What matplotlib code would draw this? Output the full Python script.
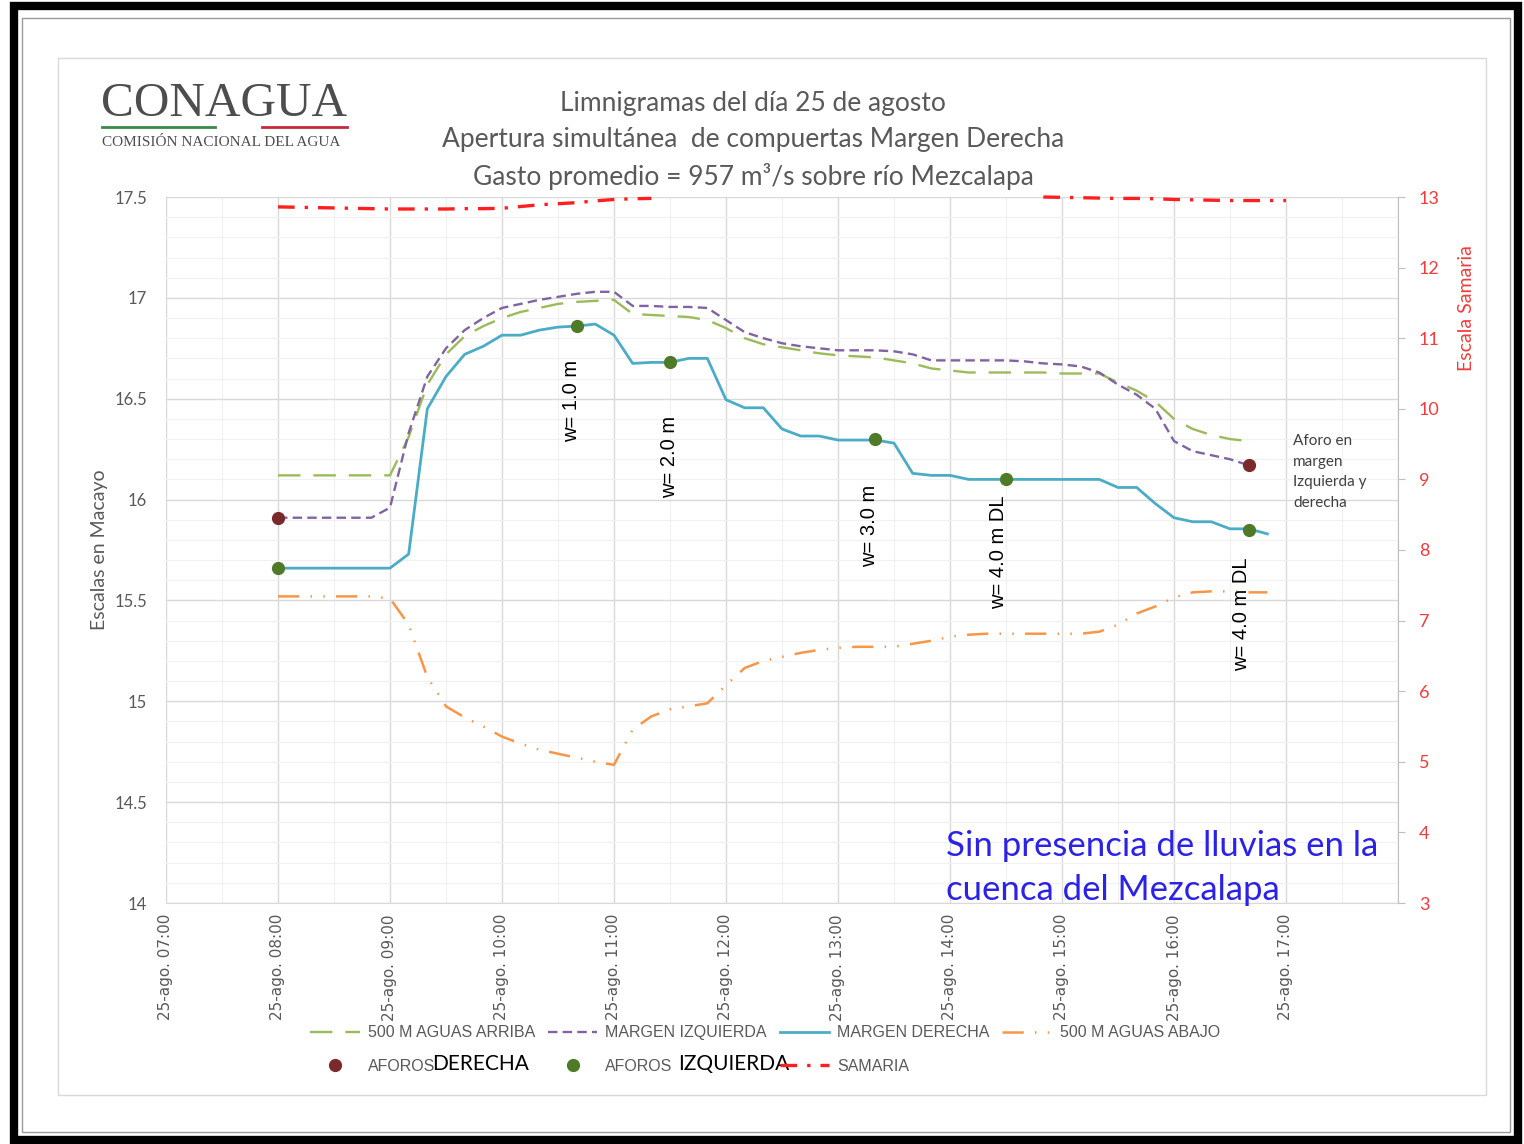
import matplotlib
matplotlib.use("Agg")
import matplotlib.pyplot as plt
from matplotlib.patches import Rectangle
from matplotlib.lines import Line2D
import numpy as np
import pandas as pd

nan = np.nan

# 10-minute readings, 25 Aug, 08:00 .. 17:00
times = pd.date_range("2019-08-25 08:00", "2019-08-25 17:00", freq="10min")

aguas_arriba = [16.12, 16.12, 16.12, 16.12, 16.12, 16.12, 16.12, 16.31, 16.57, 16.72,
                16.81, 16.86, 16.90, 16.93, 16.95, 16.97, 16.98, 16.985, 16.99, 16.92,
                16.915, 16.91, 16.905, 16.89, 16.85, 16.80, 16.77, 16.755, 16.74, 16.725,
                16.715, 16.71, 16.705, 16.69, 16.675, 16.65, 16.64, 16.63, 16.63, 16.63,
                16.63, 16.63, 16.625, 16.625, 16.625, 16.58, 16.54, 16.485, 16.40, 16.35,
                16.32, 16.30, 16.29, nan, nan]

margen_izquierda = [15.91, 15.91, 15.91, 15.91, 15.91, 15.91, 15.96, 16.33, 16.61, 16.75,
                    16.84, 16.90, 16.95, 16.97, 16.99, 17.005, 17.02, 17.03, 17.03, 16.96,
                    16.96, 16.955, 16.955, 16.95, 16.89, 16.83, 16.80, 16.775, 16.76, 16.75,
                    16.74, 16.74, 16.74, 16.735, 16.72, 16.69, 16.69, 16.69, 16.69, 16.69,
                    16.685, 16.675, 16.67, 16.66, 16.63, 16.57, 16.52, 16.45, 16.29, 16.24,
                    16.22, 16.20, 16.17, nan, nan]

margen_derecha = [15.66, 15.66, 15.66, 15.66, 15.66, 15.66, 15.66, 15.73, 16.45, 16.61,
                  16.72, 16.76, 16.815, 16.815, 16.84, 16.855, 16.86, 16.87, 16.815, 16.675,
                  16.68, 16.68, 16.70, 16.70, 16.495, 16.455, 16.455, 16.35, 16.315, 16.315,
                  16.295, 16.295, 16.295, 16.28, 16.13, 16.12, 16.12, 16.10, 16.10, 16.10,
                  16.10, 16.10, 16.10, 16.10, 16.10, 16.06, 16.06, 15.98, 15.91, 15.89,
                  15.89, 15.855, 15.855, 15.83, nan]

aguas_abajo = [15.52, 15.52, 15.52, 15.52, 15.52, 15.52, 15.51, 15.38, 15.12, 14.975,
               14.92, 14.875, 14.825, 14.79, 14.76, 14.74, 14.72, 14.70, 14.685, 14.86,
               14.925, 14.96, 14.975, 14.99, 15.08, 15.165, 15.20, 15.22, 15.24, 15.255,
               15.265, 15.27, 15.27, 15.27, 15.285, 15.30, 15.32, 15.33, 15.335, 15.335,
               15.335, 15.335, 15.335, 15.335, 15.345, 15.38, 15.435, 15.47, 15.515, 15.54,
               15.545, 15.545, 15.54, 15.54, nan]

samaria = [12.86, 12.855, 12.85, 12.845, 12.84, 12.835, 12.83, 12.83, 12.83, 12.83,
           12.835, 12.835, 12.84, 12.865, 12.89, 12.905, 12.92, 12.945, 12.965, 12.975,
           12.98, nan, nan, nan, nan, nan, nan, nan, nan, nan,
           nan, nan, nan, nan, nan, nan, nan, nan, nan, nan,
           nan, 13.0, 12.995, 12.99, 12.985, 12.98, 12.98, 12.975, 12.965, 12.96,
           12.955, 12.95, 12.95, 12.95, 12.95]

# Gauging (aforo) times and stages
aforos_der_t = ["08:00", "16:40"]
aforos_der_v = [15.91, 16.17]
aforos_izq_t = ["08:00", "10:40", "11:30", "13:20", "14:30", "16:40"]
aforos_izq_v = [15.66, 16.86, 16.68, 16.30, 16.10, 15.85]

hour_ticks = ["07:00", "08:00", "09:00", "10:00", "11:00", "12:00",
              "13:00", "14:00", "15:00", "16:00", "17:00"]
hour_labels = ["25-ago. " + h for h in hour_ticks]

left_ticks = [14, 14.5, 15, 15.5, 16, 16.5, 17, 17.5]
left_labels = ["14", "14.5", "15", "15.5", "16", "16.5", "17", "17.5"]
right_ticks = [3, 4, 5, 6, 7, 8, 9, 10, 11, 12, 13]


def ts(hhmm):
    return pd.Timestamp("2019-08-25 " + hhmm)


GREY = "#595959"
C_ARRIBA = "#9bbb59"
C_IZQ = "#8064a2"
C_DER = "#4bacc6"
C_ABAJO = "#f79646"
C_SAM = "#ff1f1f"
C_DOT_DER = "#7a2a2a"
C_DOT_IZQ = "#4f7a28"
SANS = ["Lato", "DejaVu Sans"]

W, H = 1524, 1144
fig = plt.figure(figsize=(W / 100, H / 100), dpi=100)
fig.patch.set_facecolor("white")

# page frame and chart-area border
fig.patches.append(Rectangle((14 / W, 4 / H), 1504 / W, 1134 / H, transform=fig.transFigure,
                             fill=False, ec="black", lw=6, zorder=0))
fig.patches.append(Rectangle((22 / W, 12 / H), 1488 / W, 1114 / H, transform=fig.transFigure,
                             fill=False, ec="#9a9a9a", lw=1, zorder=0))
fig.patches.append(Rectangle((58 / W, 1 - 1095 / H), 1428 / W, 1037 / H, transform=fig.transFigure,
                             fill=False, ec="#d9d9d9", lw=1, zorder=0))

ax = fig.add_axes([166 / W, 1 - 903 / H, 1232 / W, 706 / H])
ax.set_xlim(ts("07:00"), ts("18:00"))
ax.set_ylim(14, 17.5)

# grid
ax.set_yticks(left_ticks)
ax.set_yticklabels(left_labels)
ax.set_yticks(np.arange(14, 17.5, 0.1), minor=True)
ax.set_xticks([ts(h) for h in hour_ticks] + [ts("18:00")])
ax.set_xticklabels(hour_labels + [""])
ax.set_xticks(pd.date_range("2019-08-25 07:30", "2019-08-25 17:30", freq="60min"), minor=True)
ax.grid(which="major", color="#d9d9d9", lw=1.0, zorder=0)
ax.grid(which="minor", color="#f1f1f1", lw=0.9, zorder=0)
ax.set_axisbelow(True)
ax.tick_params(which="both", length=0)
ax.tick_params(axis="y", labelsize=12, labelcolor=GREY, pad=13.5)
ax.tick_params(axis="x", labelsize=11, labelcolor=GREY, rotation=90, pad=8)
for lab in ax.get_yticklabels():
    lab.set_family(SANS)
for s in ["left", "top", "right"]:
    ax.spines[s].set_visible(False)
ax.spines["bottom"].set_color("#d9d9d9")
ax.set_ylabel("Escalas en Macayo", fontsize=14, color=GREY, family=SANS, labelpad=5)

l_arr, = ax.plot(times, aguas_arriba, color=C_ARRIBA, lw=1.7, dashes=(9.5, 5.5),
                 label="500 M AGUAS ARRIBA", zorder=3)
l_izq, = ax.plot(times, margen_izquierda, color=C_IZQ, lw=1.7, dashes=(4, 2.2),
                 label="MARGEN IZQUIERDA", zorder=3)
l_der, = ax.plot(times, margen_derecha, color=C_DER, lw=2.0, label="MARGEN DERECHA", zorder=3)
l_aba, = ax.plot(times, aguas_abajo, color=C_ABAJO, lw=1.8,
                 dashes=(8.5, 4.5, 0.6, 4.5, 0.6, 4.5), label="500 M AGUAS ABAJO", zorder=3)
d_der, = ax.plot([ts(t) for t in aforos_der_t], aforos_der_v, "o", color=C_DOT_DER, ms=8.5,
                 ls="none", label="AFOROS", zorder=5)
d_izq, = ax.plot([ts(t) for t in aforos_izq_t], aforos_izq_v, "o", color=C_DOT_IZQ, ms=8.5,
                 ls="none", label="AFOROS", zorder=5)

ax2 = ax.twinx()
ax2.set_ylim(3, 13)
ax2.set_xlim(ts("07:00"), ts("18:00"))
l_sam, = ax2.plot(times, samaria, color=C_SAM, lw=2.4, dashes=(5, 3, 1, 3), label="SAMARIA",
                  clip_on=False)
ax2.set_yticks(right_ticks)
ax2.tick_params(axis="y", colors="#bfbfbf", labelcolor="#f03c3c", labelsize=13, length=5,
                direction="out", pad=10)
for lab in ax2.get_yticklabels():
    lab.set_family(SANS)
for s in ["left", "top", "bottom"]:
    ax2.spines[s].set_visible(False)
ax2.spines["right"].set_color("#bfbfbf")
ax2.set_ylabel("Escala Samaria", fontsize=14, color="#f03c3c", family=SANS)
ax2.yaxis.set_label_coords(1 + 60 / 1232, (903 - 308) / 706)

# gate-opening annotations
ann_font = dict(fontsize=14.5, color="black", rotation=90, ha="center", va="center",
                family=["Liberation Sans", "DejaVu Sans"])
ax.text(ts("10:37"), 16.49, "w= 1.0 m", **ann_font)
ax.text(ts("11:30"), 16.21, "w= 2.0 m", **ann_font)
ax.text(ts("13:17"), 15.87, "w= 3.0 m", **ann_font)
ax.text(ts("14:26"), 15.74, "w= 4.0 m DL", **ann_font)
ax.text(ts("16:36"), 15.43, "w= 4.0 m DL", **ann_font)

fig.text(1293 / W, 1 - 434 / H, "Aforo en\nmargen\nIzquierda y\nderecha", fontsize=11,
         color="#404040", ha="left", va="top", linespacing=1.6, family=SANS)

fig.text(946 / W, 1 - 846 / H, "Sin presencia de lluvias en la", fontsize=25, color="#2b22e6",
         ha="left", va="center", family=SANS)
fig.text(946 / W, 1 - 890 / H, "cuenca del Mezcalapa", fontsize=25, color="#2b22e6",
         ha="left", va="center", family=SANS)

# title
title_font = dict(fontsize=19, color=GREY, ha="center", va="center", family=SANS)
fig.text(753 / W, 1 - 104 / H, "Limnigramas del día 25 de agosto", **title_font)
fig.text(753 / W, 1 - 140 / H, "Apertura simultánea  de compuertas Margen Derecha", **title_font)
fig.text(753 / W, 1 - 176 / H, "Gasto promedio = 957 m³/s sobre río Mezcalapa", **title_font)

# institutional logo
fig.text(101 / W, 1 - 104 / H, "CONAGUA", fontsize=35.5, color="#4d4d4d", ha="left", va="center",
         family=["Liberation Serif", "DejaVu Serif"])
fig.lines.append(Line2D([102 / W, 215 / W], [1 - 127 / H] * 2, transform=fig.transFigure,
                        color="#3a8a4a", lw=2))
fig.lines.append(Line2D([262 / W, 347 / W], [1 - 127 / H] * 2, transform=fig.transFigure,
                        color="#c8283c", lw=2))
fig.text(102 / W, 1 - 142 / H, "COMISIÓN NACIONAL DEL AGUA", fontsize=11, color="#4d4d4d",
         ha="left", va="center", family=["Liberation Serif", "DejaVu Serif"])

# legend: 4 columns, filled column-wise
handles = [l_arr, d_der, l_izq, d_izq, l_der, l_sam, l_aba]
leg = fig.legend(handles=handles, labels=[h.get_label() for h in handles], ncol=4,
                 loc="center left", bbox_to_anchor=(296 / W, 1 - 1049.5 / H), frameon=False,
                 prop=dict(family=["Liberation Sans", "DejaVu Sans"], size=11.5),
                 labelcolor=GREY, handlelength=3.1, columnspacing=0.8, handletextpad=0.5,
                 labelspacing=1.15, borderpad=0.4)

fig.text(432 / W, 1 - 1064 / H, "DERECHA", fontsize=15, color="black", ha="left", va="center",
         family=SANS)
fig.text(678 / W, 1 - 1064 / H, "IZQUIERDA", fontsize=15, color="black", ha="left", va="center",
         family=SANS)

fig.savefig("out.png", dpi=100, facecolor="white")
